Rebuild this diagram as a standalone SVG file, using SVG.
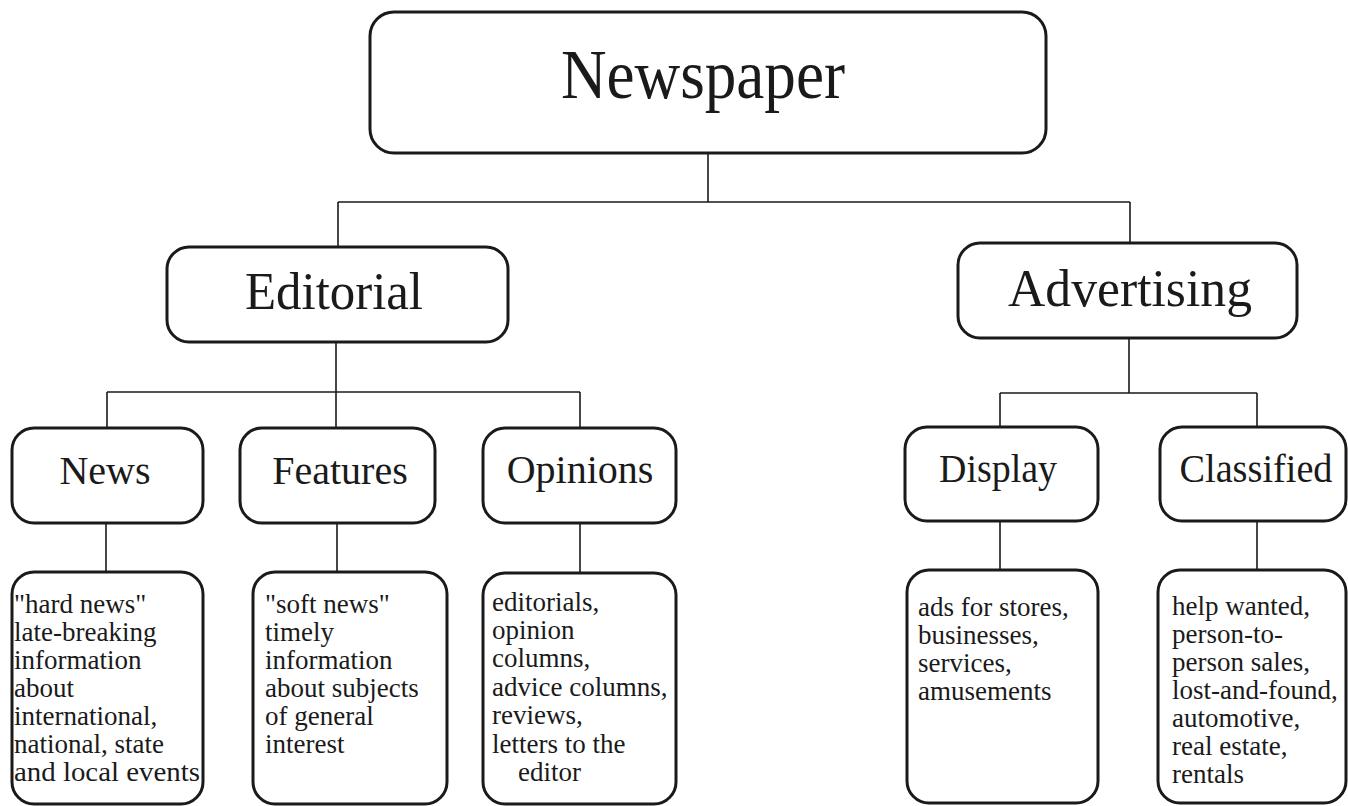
<svg xmlns="http://www.w3.org/2000/svg" width="1348" height="806" viewBox="0 0 1348 806">
<style>
.box{fill:#fff;stroke:#1a1a1a;stroke-width:3}
.conn{fill:none;stroke:#1a1a1a;stroke-width:1.6}
text{font-family:"Liberation Serif","Times New Roman",serif;fill:#1a1a1a}
.t1{font-size:70px;text-anchor:middle}
.t2{font-size:53px;text-anchor:middle}
.t3{font-size:40px;text-anchor:middle}
.d{font-size:27px}
</style>
<rect width="1348" height="806" fill="#fff"/>
<g id="connectors">
<path class="conn" d="M708 153 V202 M338 202 H1130 M338 202 V247 M1130 202 V243"/>
<path class="conn" d="M336 342 V392 M107 392 H580 M107 392 V428 M336 392 V428 M580 392 V428"/>
<path class="conn" d="M1129 338 V393 M1000 393 H1257 M1000 393 V427 M1257 393 V427"/>
<path class="conn" d="M106 523 V572 M337 523 V572 M580 523 V573 M1000 521 V570 M1257 521 V570"/>
</g>
<g id="newspaper">
<rect class="box" x="370" y="12" width="676" height="141" rx="24"/>
<text class="t1" x="703" y="98" textLength="284" lengthAdjust="spacingAndGlyphs">Newspaper</text>
</g>
<g id="editorial">
<rect class="box" x="167" y="247" width="341" height="95" rx="22"/>
<text class="t2" x="334" y="309" textLength="178" lengthAdjust="spacingAndGlyphs">Editorial</text>
</g>
<g id="advertising">
<rect class="box" x="958" y="243" width="339" height="95" rx="22"/>
<text class="t2" x="1130" y="306" textLength="244" lengthAdjust="spacingAndGlyphs">Advertising</text>
</g>
<g id="news">
<rect class="box" x="12" y="428" width="191" height="95" rx="22"/>
<text class="t3" x="105" y="484">News</text>
</g>
<g id="features">
<rect class="box" x="240" y="428" width="195" height="95" rx="22"/>
<text class="t3" x="340" y="484">Features</text>
</g>
<g id="opinions">
<rect class="box" x="483" y="428" width="193" height="95" rx="22"/>
<text class="t3" x="580" y="483">Opinions</text>
</g>
<g id="display">
<rect class="box" x="905" y="427" width="193" height="94" rx="22"/>
<text class="t3" x="998" y="482" textLength="118" lengthAdjust="spacingAndGlyphs">Display</text>
</g>
<g id="classified">
<rect class="box" x="1160" y="427" width="186" height="94" rx="22"/>
<text class="t3" x="1256" y="482" textLength="153" lengthAdjust="spacingAndGlyphs">Classified</text>
</g>
<g id="news-detail">
<rect class="box" x="12" y="572" width="191" height="232" rx="22"/>
<text class="d" x="14"><tspan x="14" y="613">"hard news"</tspan><tspan x="14" y="641">late-breaking</tspan><tspan x="14" y="669">information</tspan><tspan x="14" y="697">about</tspan><tspan x="14" y="725">international,</tspan><tspan x="14" y="753">national, state</tspan><tspan x="14" y="781" textLength="186" lengthAdjust="spacingAndGlyphs">and local events</tspan></text>
</g>
<g id="features-detail">
<rect class="box" x="253" y="572" width="194" height="232" rx="22"/>
<text class="d" x="265"><tspan x="265" y="613">"soft news"</tspan><tspan x="265" y="641">timely</tspan><tspan x="265" y="669">information</tspan><tspan x="265" y="697">about subjects</tspan><tspan x="265" y="725">of general</tspan><tspan x="265" y="753">interest</tspan></text>
</g>
<g id="opinions-detail">
<rect class="box" x="483" y="573" width="193" height="231" rx="22"/>
<text class="d" x="492"><tspan x="492" y="611">editorials,</tspan><tspan x="492" y="639">opinion</tspan><tspan x="492" y="667">columns,</tspan><tspan x="492" y="696">advice columns,</tspan><tspan x="492" y="724">reviews,</tspan><tspan x="492" y="753">letters to the</tspan><tspan x="518" y="781">editor</tspan></text>
</g>
<g id="display-detail">
<rect class="box" x="907" y="570" width="191" height="233" rx="22"/>
<text class="d" x="918"><tspan x="918" y="616">ads for stores,</tspan><tspan x="918" y="644">businesses,</tspan><tspan x="918" y="672">services,</tspan><tspan x="918" y="700">amusements</tspan></text>
</g>
<g id="classified-detail">
<rect class="box" x="1158" y="570" width="188" height="233" rx="22"/>
<text class="d" x="1172"><tspan x="1172" y="615">help wanted,</tspan><tspan x="1172" y="643">person-to-</tspan><tspan x="1172" y="671">person sales,</tspan><tspan x="1172" y="699">lost-and-found,</tspan><tspan x="1172" y="727">automotive,</tspan><tspan x="1172" y="755">real estate,</tspan><tspan x="1172" y="783">rentals</tspan></text>
</g>
</svg>
